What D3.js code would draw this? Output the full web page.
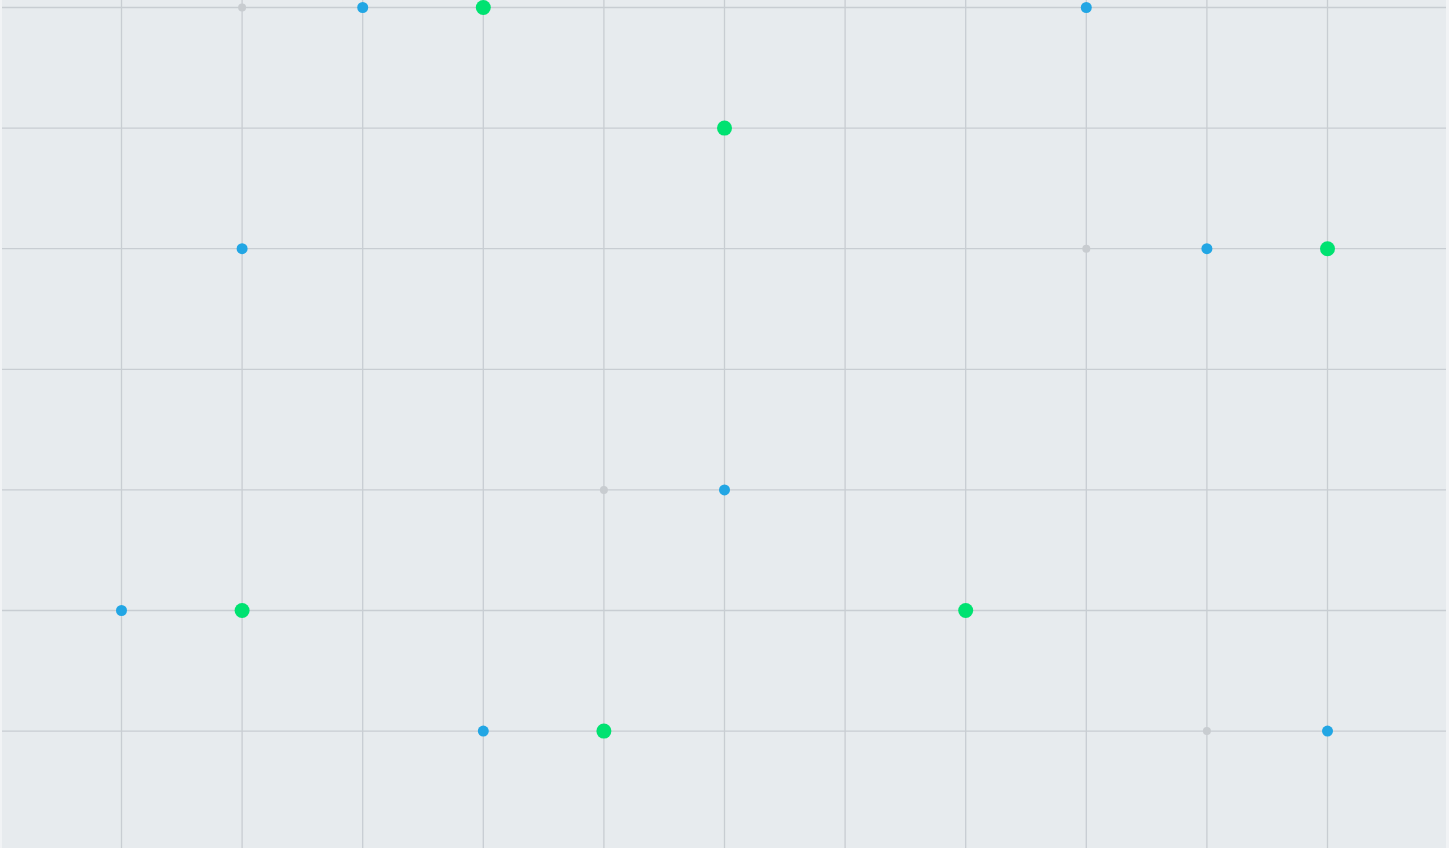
<!DOCTYPE html>
<html>
<head>
<meta charset="utf-8">
<script src="https://cdn.jsdelivr.net/npm/d3@7"></script>
<style>
  html, body { margin: 0; padding: 0; background: #f1f3f5; overflow: hidden; }
  svg { display: block; }
</style>
</head>
<body>
<div id="chart"></div>
<script>
// grid ticks
var xTicks = [1, 2, 3, 4, 5, 6, 7, 8, 9, 10, 11];
var yTicks = [1, 2, 3, 4, 5, 6, 7];

// points per series: [x, y]
var grayPoints = [[2, 7], [9, 5], [5, 3], [10, 1]];
var bluePoints = [[3, 7], [9, 7], [2, 5], [10, 5], [6, 3], [1, 2], [4, 1], [11, 1]];
var greenPoints = [[4, 7], [6, 6], [11, 5], [2, 2], [8, 2], [5, 1]];

var width = 1449, height = 848;

var x = d3.scaleLinear().domain([0, 12]).range([0.9, 1448.1]);
var y = d3.scaleLinear().domain([0, 7]).range([851.7, 7.5]);

var svg = d3.select("#chart").append("svg")
  .attr("width", width)
  .attr("height", height);

svg.append("rect")
  .attr("x", 2).attr("y", 0)
  .attr("width", 1444).attr("height", height)
  .attr("fill", "#e7ebee");

var grid = svg.append("g").attr("stroke", "#c8cdd2").attr("stroke-width", 1.3);

grid.selectAll("line.v").data(xTicks).enter().append("line")
  .attr("class", "v")
  .attr("x1", function(d){ return x(d); })
  .attr("x2", function(d){ return x(d); })
  .attr("y1", 0).attr("y2", height);

grid.selectAll("line.h").data(yTicks).enter().append("line")
  .attr("class", "h")
  .attr("x1", 2).attr("x2", 1446)
  .attr("y1", function(d){ return y(d); })
  .attr("y2", function(d){ return y(d); });

var series = [
  { pts: grayPoints, r: 4, color: "#c8ccd0" },
  { pts: bluePoints, r: 5.5, color: "#22a6e4" },
  { pts: greenPoints, r: 7.5, color: "#00e271" }
];

series.forEach(function(s){
  svg.append("g").selectAll("circle").data(s.pts).enter().append("circle")
    .attr("cx", function(d){ return x(d[0]); })
    .attr("cy", function(d){ return y(d[1]); })
    .attr("r", s.r)
    .attr("fill", s.color);
});
</script>
</body>
</html>
